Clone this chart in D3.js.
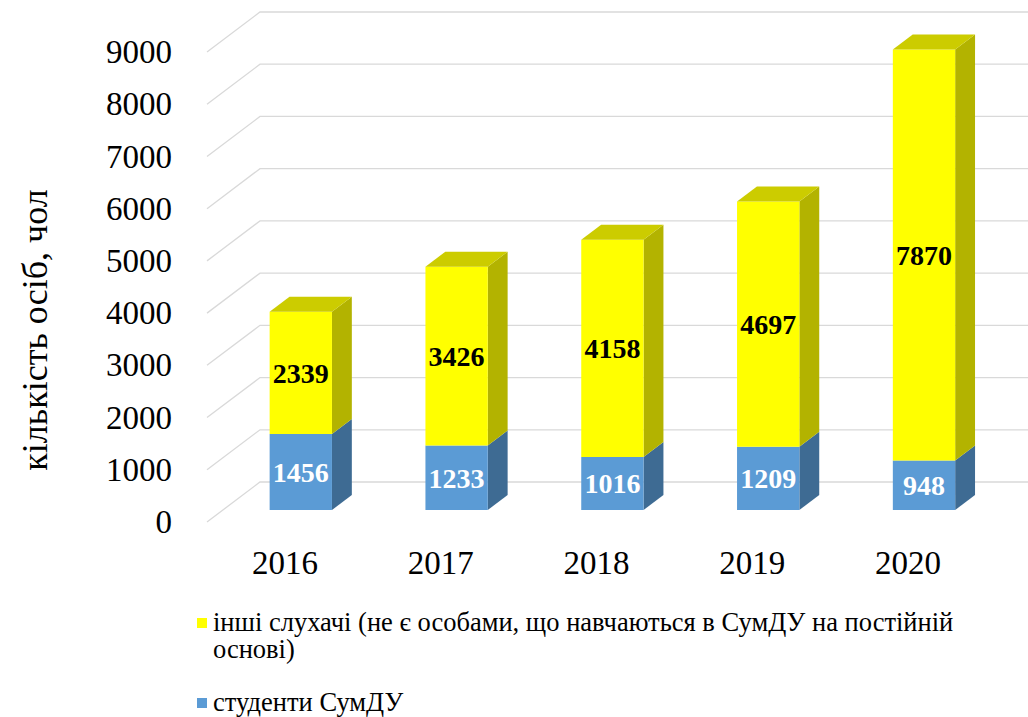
<!DOCTYPE html>
<html>
<head>
<meta charset="utf-8">
<script src="https://cdn.jsdelivr.net/npm/d3@7"></script>
<style>
  body { margin: 0; background: #fff; }
  svg { display: block; }
  svg text { font-family: 'Liberation Serif', 'Times New Roman', serif; }
</style>
</head>
<body>
<svg id="chart" width="1028" height="717"></svg>
<script>
const years = ['2016', '2017', '2018', '2019', '2020'];
const students = [1456, 1233, 1016, 1209, 948];
const others = [2339, 3426, 4158, 4697, 7870];
const yTicks = [0, 1000, 2000, 3000, 4000, 5000, 6000, 7000, 8000, 9000];

const legendItems = [
  { lines: ['інші слухачі (не є особами, що навчаються в СумДУ на постійній', 'основі)'], color: '#ffff00' },
  { lines: ['студенти СумДУ'], color: '#5b9bd5' }
];

const svg = d3.select('#chart');

// oblique 3d: full depth shifts by (depthX, depthY)
const depthX = 53, depthY = -40;
const barD0 = 0.3, barD1 = 0.675;

const x = d3.scaleBand().domain(years).range([207, 986]);
const y = d3.scaleLinear().domain([0, 9000]).range([522, 52]);

const P = (px, v, d) => [px + depthX * d, y(v) + depthY * d];
const poly = pts => 'M' + pts.map(p => p.join(',')).join('L') + 'Z';

// gridlines: floor/side diagonal + back wall
const grid = svg.append('g');
yTicks.forEach(t => {
  const a = P(x.range()[0], t, 0);
  const b = P(x.range()[0], t, 1);
  grid.append('path')
    .attr('d', `M${a}L${b}L1028,${b[1]}`)
    .attr('fill', 'none')
    .attr('stroke', '#d9d9d9')
    .attr('stroke-width', 1.3);
});

// y axis labels
const yAxis = d3.axisLeft(y).tickValues(yTicks).tickFormat(d3.format('d')).tickSize(0).tickPadding(8);
svg.append('g')
  .attr('transform', 'translate(180,0)')
  .call(yAxis)
  .call(g => g.select('.domain').remove())
  .selectAll('text')
    .style('font-family', "'Liberation Serif', serif")
    .attr('font-size', 33)
    .attr('fill', '#000');

// x labels
svg.append('g').selectAll('text').data(years).enter().append('text')
  .attr('x', d => x(d) + x.bandwidth() / 2)
  .attr('y', 574)
  .attr('text-anchor', 'middle')
  .attr('font-size', 33)
  .text(d => d);

// bars
const barW = x.bandwidth() * 0.4;
const series = [
  { vals: students, front: '#5b9bd5', side: '#3e6b93', top: '#4f87bb', label: '#fff' },
  { vals: others, front: '#ffff00', side: '#b3b300', top: '#cccc00', label: '#000' }
];

const bars = svg.append('g');
years.forEach((yr, i) => {
  const xl = x(yr) + (x.bandwidth() - barW) / 2;
  const xr = xl + barW;
  let base = 0;
  series.forEach((s, si) => {
    const v0 = base, v1 = base + s.vals[i];
    base = v1;
    // right side
    bars.append('path')
      .attr('d', poly([P(xr, v0, barD0), P(xr, v0, barD1), P(xr, v1, barD1), P(xr, v1, barD0)]))
      .attr('fill', s.side);
    // front
    bars.append('path')
      .attr('d', poly([P(xl, v0, barD0), P(xr, v0, barD0), P(xr, v1, barD0), P(xl, v1, barD0)]))
      .attr('fill', s.front);
    if (si === series.length - 1) {
      bars.append('path')
        .attr('d', poly([P(xl, v1, barD0), P(xr, v1, barD0), P(xr, v1, barD1), P(xl, v1, barD1)]))
        .attr('fill', s.top);
    }
    const c = P((xl + xr) / 2, (v0 + v1) / 2, barD0);
    bars.append('text')
      .attr('x', c[0])
      .attr('y', c[1])
      .attr('dy', '0.35em')
      .attr('text-anchor', 'middle')
      .attr('font-size', 28)
      .attr('font-weight', 'bold')
      .attr('fill', s.label)
      .text(s.vals[i]);
  });
});

// y title
svg.append('text')
  .attr('transform', 'translate(47,330) rotate(-90)')
  .attr('text-anchor', 'middle')
  .attr('font-size', 36)
  .text('кількість осіб, чол');

// legend
const legendY = [631, 711];
const leg = svg.append('g');
legendItems.forEach((it, i) => {
  leg.append('rect')
    .attr('x', 197).attr('y', legendY[i] - 13)
    .attr('width', 10).attr('height', 10)
    .attr('fill', it.color);
  it.lines.forEach((ln, j) => {
    leg.append('text')
      .attr('x', 213)
      .attr('y', legendY[i] + j * 27)
      .attr('font-size', 26.5)
      .text(ln);
  });
});
</script>
</body>
</html>
